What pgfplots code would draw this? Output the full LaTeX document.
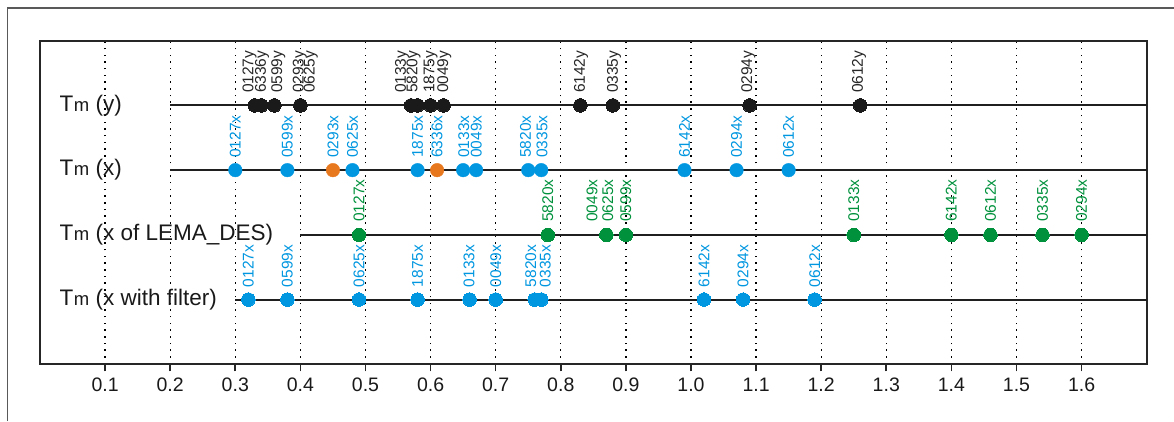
\documentclass[border=0pt]{standalone}
\usepackage{pgfplots}
\pgfplotsset{compat=1.18}
\usepackage{pgfplotstable}
\usepackage{fontspec}
\setmainfont{Liberation Sans}
\definecolor{cblue}{RGB}{0,150,224}
\definecolor{corange}{RGB}{232,120,30}
\definecolor{cgreen}{RGB}{0,145,60}
\definecolor{cblack}{RGB}{26,26,26}
\newcommand\Tm{T\kern0.6pt{\fontsize{18.5}{19}\selectfont m}}
\newcommand\tl[1]{{\fontsize{19.5}{20}\selectfont #1}}
\newcommand\pl[1]{{\fontsize{15.5}{16}\selectfont #1}}

% row 1: T_m (y)
\pgfplotstableread{
x    y  lx     ly    label
0.33 4  0.322  4.19  0127y
0.34 4  0.341  4.19  6336y
0.36 4  0.366  4.19  0599y
0.40 4  0.399  4.19  0293y
0.40 4  0.416  4.19  0625y
0.57 4  0.556  4.19  0133y
0.58 4  0.574  4.19  5820y
0.60 4  0.600  4.19  1875y
0.62 4  0.621  4.19  0049y
0.83 4  0.831  4.19  6142y
0.88 4  0.882  4.19  0335y
1.09 4  1.088  4.19  0294y
1.26 4  1.258  4.19  0612y
}\rowone

% row 2: T_m (x)
\pgfplotstableread{
x    y  lx     ly    c label
0.30 3  0.300  3.19  b 0127x
0.38 3  0.380  3.19  b 0599x
0.45 3  0.450  3.19  o 0293x
0.48 3  0.480  3.19  b 0625x
0.58 3  0.580  3.19  b 1875x
0.61 3  0.610  3.19  o 6336x
0.65 3  0.651  3.19  b 0133x
0.67 3  0.670  3.19  b 0049x
0.75 3  0.746  3.19  b 5820x
0.77 3  0.771  3.19  b 0335x
0.99 3  0.990  3.19  b 6142x
1.07 3  1.070  3.19  b 0294x
1.15 3  1.150  3.19  b 0612x
}\rowtwo

% row 3: T_m (x of LEMA_DES)
\pgfplotstableread{
x    y  lx     ly    label
0.49 2  0.490  2.20  0127x
0.78 2  0.780  2.20  5820x
0.87 2  0.848  2.20  0049x
0.87 2  0.872  2.20  0625x
0.90 2  0.900  2.20  0599x
1.25 2  1.250  2.20  0133x
1.40 2  1.400  2.20  6142x
1.46 2  1.460  2.20  0612x
1.54 2  1.540  2.20  0335x
1.60 2  1.600  2.20  0294x
}\rowthree

% row 4: T_m (x with filter)
\pgfplotstableread{
x    y  lx     ly    label
0.32 1  0.320  1.19  0127x
0.38 1  0.380  1.19  0599x
0.49 1  0.490  1.19  0625x
0.58 1  0.580  1.19  1875x
0.66 1  0.659  1.19  0133x
0.70 1  0.700  1.19  0049x
0.76 1  0.754  1.19  5820x
0.77 1  0.776  1.19  0335x
1.02 1  1.020  1.19  6142x
1.08 1  1.080  1.19  0294x
1.19 1  1.190  1.19  0612x
}\rowfour

\begin{document}
\begin{tikzpicture}[x=1pt,y=1pt]
\useasboundingbox (0,0) rectangle (1174,421);
\draw[black!65, line width=1.4pt] (7.5,0) -- (7.5,413) -- (1174,413);
\begin{axis}[
  at={(40pt,56.7pt)}, anchor=south west,
  scale only axis, width=1106.7pt, height=323.6pt,
  xmin=0, xmax=1.7, ymin=0, ymax=5,
  clip=false,
  axis line style={line width=2pt, black!85},
  xtick={0.1,0.2,0.3,0.4,0.5,0.6,0.7,0.8,0.9,1.0,1.1,1.2,1.3,1.4,1.5,1.6},
  xticklabels={\tl{0.1},\tl{0.2},\tl{0.3},\tl{0.4},\tl{0.5},\tl{0.6},\tl{0.7},\tl{0.8},\tl{0.9},\tl{1.0},\tl{1.1},\tl{1.2},\tl{1.3},\tl{1.4},\tl{1.5},\tl{1.6}},
  ytick=\empty,
  xtick pos=left,
  tick align=outside,
  major tick length=7pt,
  x tick style={line width=1.6pt, black!85},
  xticklabel style={yshift=-3pt, text=black!90},
  xmajorgrids,
  major grid style={black, line width=1.3pt, dash pattern=on 1.5pt off 5.2pt},
  point meta=explicit symbolic,
]
% row lines
\addplot[line width=2pt, black!88, no marks] coordinates {(0.2,4) (1.7,4)};
\addplot[line width=2pt, black!88, no marks] coordinates {(0.2,3) (1.7,3)};
\addplot[line width=2pt, black!88, no marks] coordinates {(0.4,2) (1.7,2)};
\addplot[line width=2pt, black!88, no marks] coordinates {(0.3,1) (1.7,1)};

% dots
\addplot[only marks, mark=*, mark size=6.8pt, mark options={fill=cblack, draw=cblack, line width=0pt}] table[x=x, y=y] {\rowone};
\addplot[scatter, only marks, mark=*, mark size=6.8pt,
  scatter src=explicit symbolic,
  scatter/classes={b={mark=*, fill=cblue, draw=cblue}, o={mark=*, fill=corange, draw=corange}}]
  table[x=x, y=y, meta=c] {\rowtwo};
\addplot[only marks, mark=*, mark size=6.8pt, mark options={fill=cgreen, draw=cgreen, line width=0pt}] table[x=x, y=y] {\rowthree};
\addplot[only marks, mark=*, mark size=6.8pt, mark options={fill=cblue, draw=cblue, line width=0pt}] table[x=x, y=y] {\rowfour};

% labels
\addplot[only marks, mark=none, nodes near coords={\pl{\pgfplotspointmeta}},
  every node near coord/.append style={rotate=90, anchor=west, inner sep=0pt, text=black!85}]
  table[x=lx, y=ly, meta=label] {\rowone};
\addplot[only marks, mark=none, nodes near coords={\pl{\pgfplotspointmeta}},
  every node near coord/.append style={rotate=90, anchor=west, inner sep=0pt, text=cblue}]
  table[x=lx, y=ly, meta=label] {\rowtwo};
\addplot[only marks, mark=none, nodes near coords={\pl{\pgfplotspointmeta}},
  every node near coord/.append style={rotate=90, anchor=west, inner sep=0pt, text=cgreen}]
  table[x=lx, y=ly, meta=label] {\rowthree};
\addplot[only marks, mark=none, nodes near coords={\pl{\pgfplotspointmeta}},
  every node near coord/.append style={rotate=90, anchor=west, inner sep=0pt, text=cblue}]
  table[x=lx, y=ly, meta=label] {\rowfour};

% row titles
\node[anchor=base west, font=\fontsize{22.5}{24}\selectfont, text=black!90] at (axis cs:0.0246,3.912) {\Tm\ (y)};
\node[anchor=base west, font=\fontsize{22.5}{24}\selectfont, text=black!90] at (axis cs:0.0246,2.912) {\Tm\ (x)};
\node[anchor=base west, font=\fontsize{22.5}{24}\selectfont, text=black!90] at (axis cs:0.0246,1.912) {\Tm\ (x of LEMA\_DES)};
\node[anchor=base west, font=\fontsize{22.5}{24}\selectfont, text=black!90] at (axis cs:0.0246,0.912) {\Tm\ (x with filter)};
\end{axis}
\end{tikzpicture}
\end{document}
